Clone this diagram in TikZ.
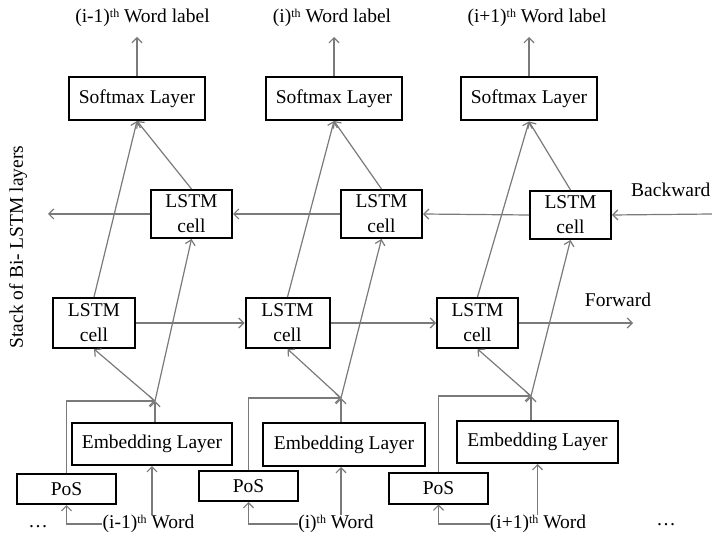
\documentclass[tikz,border=0pt]{standalone}
\usepackage{fontspec}
\setmainfont{Liberation Serif}
\usetikzlibrary{arrows.meta}
\definecolor{conn}{HTML}{7A7A7A}
\newcommand{\thsup}{\raisebox{0.6ex}{\fontsize{12}{12}\selectfont th}}
\tikzset{
  box/.style={draw=black,line width=2pt,inner sep=0pt,align=center,
    font=\fontsize{19.5}{25}\selectfont},
  lbl/.style={inner sep=0pt,font=\fontsize{19.5}{24}\selectfont},
  conn/.style={draw=conn,line width=1.2pt},
  arr/.style={conn,-{Straight Barb[length=5pt,width=10pt,line width=1.2pt]}},
}
\begin{document}
\begin{tikzpicture}[x=1pt,y=-1pt]
\clip (0,0) rectangle (712,537);
\fill[white] (0,0) rectangle (712,537);
% softmax
\node[box,minimum width=136pt,minimum height=43pt] (s1) at (137,98.5) {Softmax Layer};
\node[box,minimum width=136pt,minimum height=43pt] (s2) at (334,98.5) {Softmax Layer};
\node[box,minimum width=136pt,minimum height=43pt] (s3) at (529,99) {Softmax Layer};
% top labels
\node[lbl] (t1) at (142.5,18) {(i-1)\thsup{} Word label};
\node[lbl] (t2) at (332,18) {(i)\thsup{} Word label};
\node[lbl] (t3) at (537,18) {(i+1)\thsup{} Word label};
\coordinate (a1) at (137,37);
\coordinate (a2) at (334,37);
\coordinate (a3) at (529,37);
% backward cells
\node[box,minimum width=81pt,minimum height=48pt] (b1) at (191.5,214) {LSTM\\cell};
\node[box,minimum width=81pt,minimum height=48pt] (b2) at (381.5,214) {LSTM\\cell};
\node[box,minimum width=81pt,minimum height=48pt] (b3) at (570.5,215) {LSTM\\cell};
% forward cells
\node[box,minimum width=82pt,minimum height=50pt] (f1) at (94,323) {LSTM\\cell};
\node[box,minimum width=84pt,minimum height=50pt] (f2) at (287.5,323) {LSTM\\cell};
\node[box,minimum width=81pt,minimum height=50pt] (f3) at (477.5,323) {LSTM\\cell};
% embedding
\node[box,minimum width=160pt,minimum height=42pt] (e1) at (152,444) {Embedding Layer};
\node[box,minimum width=162pt,minimum height=43pt] (e2) at (344,444.5) {Embedding Layer};
\node[box,minimum width=161pt,minimum height=42pt] (e3) at (537.5,442) {Embedding Layer};
% PoS
\node[box,minimum width=99pt,minimum height=30pt] (p1) at (66.5,489) {PoS};
\node[box,minimum width=99pt,minimum height=30pt] (p2) at (248.5,486) {PoS};
\node[box,minimum width=99pt,minimum height=31pt] (p3) at (438.5,488) {PoS};
% words
\node[lbl] (w1) at (148.5,524) {(i-1)\thsup{} Word};
\node[lbl] (w2) at (336,524) {(i)\thsup{} Word};
\node[lbl] (w3) at (538,524) {(i+1)\thsup{} Word};
% junctions
\coordinate (j1) at (155,401);
\coordinate (j2) at (341,398);
\coordinate (j3) at (531,396);
% side labels
\node[lbl,rotate=90] (stack) at (18,247) {Stack of Bi- LSTM layers};
\node[lbl,anchor=west] (bw) at (631,190) {Backward};
\node[lbl] (fw) at (618,300) {Forward};
\node[lbl] (d1) at (38,527) {\dots};
\node[lbl] (d2) at (666,525) {\dots};
\coordinate (bin) at (712,214);
\coordinate (bout) at (48,214);
\coordinate (fout) at (633,323);

% top arrows
\draw[arr] (s1.north) -- (a1);
\draw[arr] (s2.north) -- (a2);
\draw[arr] (s3.north) -- (a3);
% backward chain
\draw[arr] (bin) -- (b3.east);
\draw[arr] (b3.west) -- (b2.east);
\draw[arr] (b2.west) -- (b1.east);
\draw[arr] (b1.west) -- (bout);
% forward chain
\draw[arr] (f1.east) -- (f2.west);
\draw[arr] (f2.east) -- (f3.west);
\draw[arr] (f3.east) -- (fout);
% to softmax
\draw[arr] (f1.north) -- (s1.south);
\draw[arr] (b1.north) -- (s1.south);
\draw[arr] (f2.north) -- (s2.south);
\draw[arr] (b2.north) -- (s2.south);
\draw[arr] (f3.north) -- (s3.south);
\draw[arr] (b3.north) -- (s3.south);
% junction to cells
\draw[arr] (j1) -- (f1.south);
\draw[arr] (j1) -- (b1.south);
\draw[arr] (j2) -- (f2.south);
\draw[arr] (j2) -- (b2.south);
\draw[arr] (j3) -- (f3.south);
\draw[arr] (j3) -- (b3.south);
% embedding to junction
\draw[arr] (e1.north -| j1) -- (j1);
\draw[arr] (e2.north -| j2) -- (j2);
\draw[arr] (e3.north -| j3) -- (j3);
% PoS to junction
\draw[arr] (p1.north) |- (j1);
\draw[arr] (p2.north) |- (j2);
\draw[arr] (p3.north) |- (j3);
% words to embedding
\draw[arr] (w1.north -| e1) -- (e1.south);
\draw[arr] (w2.north -| j2) -- (e2.south -| j2);
\draw[arr] (w3.north -| e3) -- (e3.south);
% words to PoS
\draw[arr] (w1.west) -| (p1.south);
\draw[arr] (w2.west) -| (p2.south);
\draw[arr] (w3.west) -| (p3.south);
\end{tikzpicture}
\end{document}
